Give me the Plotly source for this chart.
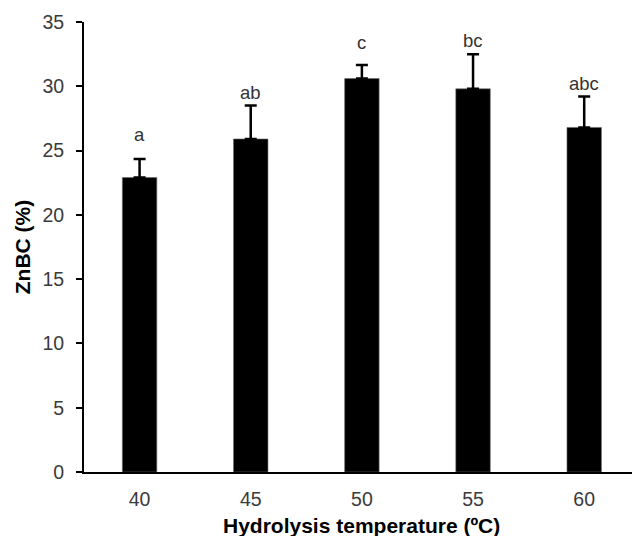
import plotly.graph_objects as go

# Hydrolysis temperature vs. zinc binding capacity
temperatures = ["40", "45", "50", "55", "60"]
znbc_mean = [22.9, 25.9, 30.6, 29.8, 26.8]
znbc_sd = [1.45, 2.6, 1.05, 2.7, 2.4]
significance = ["a", "ab", "c", "bc", "abc"]

# vertical offset (px) of each significance letter above its error bar
letter_shift = [12, 1, 10, 1, 1]

FONT = "Arial, Liberation Sans, sans-serif"

fig = go.Figure()
fig.add_trace(go.Bar(
    x=temperatures,
    y=znbc_mean,
    marker=dict(color="black", line=dict(color="#6a6a6a", width=0.6)),
    error_y=dict(type="data", array=znbc_sd, arrayminus=[0] * len(znbc_sd),
                 symmetric=False, color="black", thickness=2.5, width=6),
    width=0.31,
    showlegend=False,
))

for i, (m, s, lab) in enumerate(zip(znbc_mean, znbc_sd, significance)):
    fig.add_annotation(
        x=i, y=m + s, text=lab, showarrow=False,
        xref="x", yref="y", yanchor="bottom", yshift=letter_shift[i],
        font=dict(family=FONT, size=18.5, color="#333333"),
    )

# x axis title centred under the bars
fig.add_annotation(
    x=2, y=0, xref="x", yref="y", yanchor="top", yshift=-40,
    text="<b>Hydrolysis temperature (ºC)</b>", showarrow=False,
    font=dict(family=FONT, size=21, color="black"),
)

fig.update_layout(
    width=632, height=536,
    margin=dict(l=84, r=0, t=22, b=64),
    plot_bgcolor="white", paper_bgcolor="white",
    font=dict(family=FONT, size=19.5, color="#3a3a3a"),
    xaxis=dict(
        type="category", range=[-0.5, 4.43],
        showline=True, linecolor="black", linewidth=2,
        ticks="", showgrid=False, zeroline=False,
        tickfont=dict(size=19.5, color="#3a3a3a"),
        ticklabelstandoff=9,
    ),
    yaxis=dict(
        range=[0, 35], tickvals=[0, 5, 10, 15, 20, 25, 30, 35],
        showline=True, linecolor="black", linewidth=2,
        ticks="outside", ticklen=6, tickwidth=2, tickcolor="black",
        showgrid=False, zeroline=False,
        tickfont=dict(size=19.5, color="#3a3a3a"),
        ticklabelstandoff=8,
        title=dict(text="<b>ZnBC (%)</b>", font=dict(family=FONT, size=21, color="black"),
                   standoff=6),
    ),
)

fig.write_html("out.html")
